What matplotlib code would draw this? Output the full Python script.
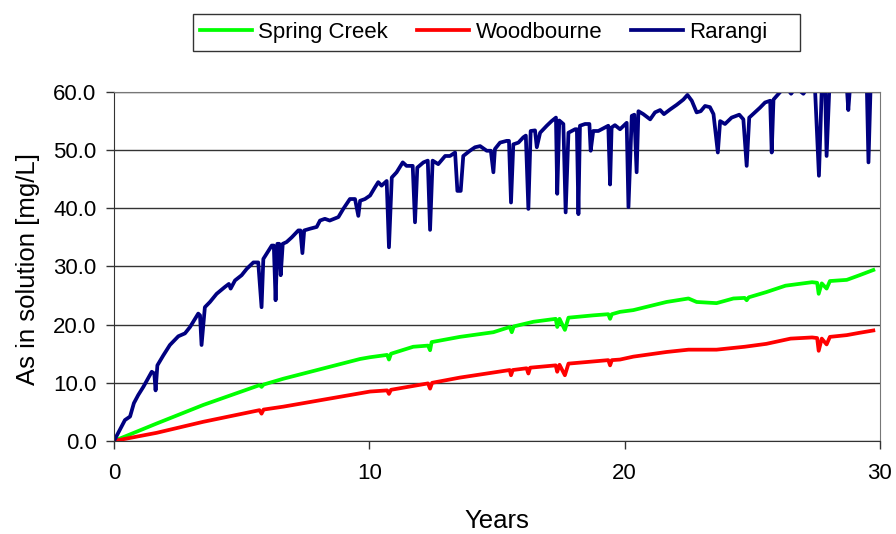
import matplotlib
matplotlib.use('Agg')
import matplotlib.pyplot as plt
from matplotlib.patches import Rectangle

plt.rcParams['font.family'] = ['Liberation Sans', 'DejaVu Sans']

# values
spring_years = [0, 1.67, 3.5, 5.7, 5.78, 5.86, 6.63, 9.64, 10.03, 10.7, 10.77, 10.85,
                11.72, 12.3, 12.38, 12.44, 13.55, 14.86, 15.5, 15.58, 15.66, 16.43,
                17.3, 17.36, 17.45, 17.66, 17.8, 18.77, 19.36, 19.43, 19.5, 19.82,
                20.34, 21.64, 22.5, 22.82, 23.6, 24.26, 24.7, 24.78, 24.86, 25.55,
                26.3, 27.34, 27.54, 27.6, 27.72, 27.91, 28.04, 28.7, 29.2, 29.74]
spring_vals = [0, 3.0, 6.2, 9.6, 9.3, 9.7, 10.7, 14.1, 14.4, 14.8, 14.0, 15.0,
               16.2, 16.4, 15.6, 17.0, 17.9, 18.7, 19.6, 18.7, 19.7, 20.5,
               21.0, 19.6, 21.0, 19.1, 21.2, 21.6, 21.8, 21.0, 21.8, 22.2,
               22.5, 23.9, 24.5, 23.9, 23.7, 24.5, 24.6, 24.2, 24.7, 25.6,
               26.7, 27.3, 27.2, 25.3, 27.1, 26.2, 27.5, 27.7, 28.5, 29.4]

wood_years = [0, 1.67, 3.5, 5.7, 5.78, 5.86, 6.63, 9.64, 10.03, 10.7, 10.77, 10.85,
              12.3, 12.38, 12.46, 13.55, 15.5, 15.55, 15.62, 16.16, 16.23, 16.3,
              17.3, 17.36, 17.45, 17.66, 17.8, 19.36, 19.43, 19.5, 19.82, 20.34,
              21.64, 22.5, 23.6, 24.7, 25.55, 26.5, 27.34, 27.54, 27.6, 27.72,
              27.91, 28.04, 28.7, 29.2, 29.74]
wood_vals = [0, 1.4, 3.3, 5.3, 4.7, 5.4, 5.9, 8.2, 8.5, 8.7, 8.1, 8.8,
             9.9, 9.0, 10.0, 10.9, 12.2, 11.3, 12.2, 12.5, 11.6, 12.6,
             13.0, 11.9, 13.1, 11.3, 13.3, 13.9, 13.0, 13.9, 14.0, 14.5,
             15.3, 15.7, 15.7, 16.2, 16.7, 17.6, 17.8, 17.7, 15.5, 17.6,
             16.6, 17.9, 18.2, 18.6, 19.0]

rarangi_years = [0, 0.43, 0.63, 0.78, 0.95, 1.15, 1.48, 1.58, 1.63, 1.70, 1.93, 2.19,
                 2.52, 2.78, 2.98, 3.30, 3.37, 3.43, 3.56, 3.76, 4.02, 4.35, 4.50, 4.57,
                 4.74, 5.00, 5.20, 5.46, 5.65, 5.78, 5.85, 6.18, 6.26, 6.33, 6.40, 6.47,
                 6.53, 6.61, 6.76, 6.96, 7.22, 7.30, 7.38, 7.45, 7.68, 7.94, 8.07, 8.26,
                 8.45, 8.79, 8.98, 9.24, 9.44, 9.57, 9.64, 9.83, 10.03, 10.22, 10.35,
                 10.48, 10.68, 10.77, 10.88, 11.07, 11.31, 11.46, 11.70, 11.79, 11.88,
                 12.12, 12.29, 12.38, 12.48, 12.70, 12.97, 13.16, 13.36, 13.45, 13.58,
                 13.68, 13.94, 14.14, 14.34, 14.60, 14.76, 14.86, 14.92, 15.12, 15.38,
                 15.47, 15.55, 15.64, 15.84, 16.03, 16.13, 16.23, 16.32, 16.49, 16.56,
                 16.69, 16.95, 17.14, 17.31, 17.36, 17.44, 17.60, 17.69, 17.80, 18.06,
                 18.13, 18.19, 18.25, 18.45, 18.62, 18.67, 18.77, 18.97, 19.23, 19.36,
                 19.43, 19.49, 19.62, 19.82, 20.08, 20.15, 20.28, 20.38, 20.47, 20.54,
                 20.73, 21.00, 21.19, 21.39, 21.54, 21.78, 22.04, 22.30, 22.46, 22.63,
                 22.82, 22.98, 23.15, 23.34, 23.48, 23.65, 23.74, 23.93, 24.19, 24.49,
                 24.65, 24.78, 24.88, 25.10, 25.30, 25.50, 25.70, 25.76, 25.83, 26.09,
                 26.30, 26.52, 26.70, 27.00, 27.20, 27.46, 27.61, 27.72, 27.85, 27.91,
                 28.02, 28.40, 28.70, 28.76, 28.83, 29.20, 29.48, 29.55, 29.64]
rarangi_vals = [0, 3.6, 4.2, 6.5, 7.9, 9.3, 11.9, 11.6, 8.7, 13.0, 14.7, 16.5,
                18.0, 18.5, 19.6, 21.9, 21.6, 16.5, 23.0, 23.9, 25.3, 26.5, 27.0, 26.2,
                27.6, 28.5, 29.6, 30.7, 30.7, 23.0, 31.3, 33.6, 33.6, 24.2, 33.9, 33.9,
                28.5, 33.9, 34.2, 35.0, 36.2, 36.2, 32.3, 36.2, 36.5, 36.8, 37.9, 38.2,
                37.9, 38.5, 39.9, 41.6, 41.6, 38.7, 41.3, 41.6, 42.2, 43.6, 44.5,
                43.9, 44.7, 33.3, 45.3, 46.2, 47.9, 47.3, 47.3, 37.6, 47.0,
                47.9, 48.2, 36.3, 48.2, 47.6, 49.0, 49.0, 49.6, 43.0, 43.0,
                49.0, 49.9, 50.5, 50.7, 49.9, 49.9, 46.2, 50.2, 51.3, 51.6,
                51.6, 41.0, 51.0, 51.3, 52.2, 52.5, 39.9, 53.3, 53.4, 50.5,
                53.0, 54.2, 55.0, 55.6, 42.5, 55.1, 54.5, 39.3, 53.0, 53.6,
                53.6, 39.0, 54.2, 54.5, 54.5, 49.9, 53.3, 53.3, 53.9, 54.2,
                44.1, 53.9, 54.3, 53.6, 54.7, 40.2, 55.9, 56.1, 46.2, 56.7,
                56.2, 55.3, 56.5, 56.9, 56.2, 57.0, 57.8, 58.7, 59.5, 58.5,
                56.5, 56.7, 57.6, 57.4, 56.2, 49.6, 55.0, 54.5, 55.6, 56.1,
                55.3, 47.3, 55.6, 56.5, 57.3, 58.2, 58.5, 49.6, 58.7, 60.0,
                61.0, 59.7, 60.8, 59.7, 61.0, 60.2, 45.6, 60.5, 61.0, 49.0,
                61.0, 61.5, 61.0, 56.9, 61.0, 61.8, 62.0, 47.9, 62.0]

y_ticks = [0, 10, 20, 30, 40, 50, 60]
x_ticks = [0, 10, 20, 30]

fig = plt.figure(figsize=(8.96, 5.34), dpi=100)
ax = fig.add_axes([0.1272, 0.1742, 0.8549, 0.6535])

ax.plot(spring_years, spring_vals, color='#00ff00', lw=2.7, label='Spring Creek')
ax.plot(wood_years, wood_vals, color='#ff0000', lw=2.7, label='Woodbourne')
ax.plot(rarangi_years, rarangi_vals, color='#000080', lw=2.7, label='Rarangi')

ax.set_xlim(0, 30)
ax.set_ylim(0, 60)
ax.set_xticks(x_ticks)
ax.set_yticks(y_ticks)
ax.set_yticklabels(['%.1f' % v for v in y_ticks])
ax.tick_params(labelsize=16, direction='out', length=5.5, width=1, color='#333333')
ax.tick_params(axis='x', pad=10)
ax.tick_params(axis='y', pad=7)
ax.grid(axis='y', color='#333333', lw=1)
ax.set_axisbelow(True)
for s in ['top', 'right']:
    ax.spines[s].set_color('#777777')
for s in ['left', 'bottom']:
    ax.spines[s].set_color('#333333')

ax.set_xlabel('Years', fontsize=18.5)
ax.xaxis.label.set_verticalalignment('baseline')
ax.xaxis.set_label_coords(0.5, -0.249)
ax.set_ylabel('As in solution [mg/L]', fontsize=18.5)
ax.yaxis.label.set_verticalalignment('baseline')
ax.yaxis.set_label_coords(-0.103, 0.493)

# legend box (wider on the right, like the original)
fig.patches.append(Rectangle((193.3 / 896, 1 - 50.7 / 534), 606.7 / 896, 36.7 / 534,
                             transform=fig.transFigure, fill=False,
                             edgecolor='#333333', lw=1.0))
fig.legend(loc='center left', bbox_to_anchor=(200 / 896, 1 - 32.4 / 534), ncol=3,
           fontsize=16, frameon=False, handlelength=2.35, columnspacing=1.3,
           handletextpad=0.28, borderpad=0, borderaxespad=0)

fig.savefig('out.png', dpi=100)
